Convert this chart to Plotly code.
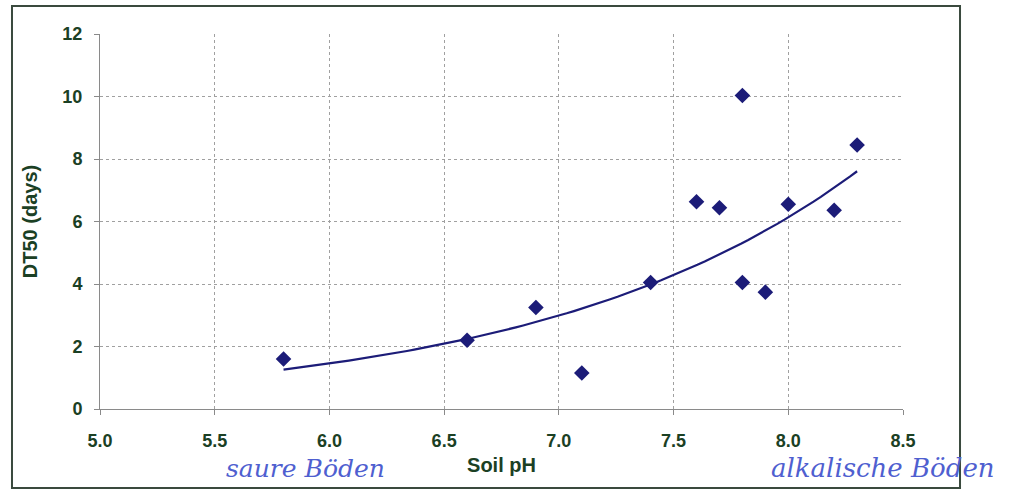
import numpy as np
import plotly.graph_objects as go

# Data
soil_ph = [5.8, 6.6, 6.9, 7.1, 7.4, 7.6, 7.7, 7.8, 7.8, 7.9, 8.0, 8.2, 8.3]
dt50_days = [1.6, 2.2, 3.25, 1.15, 4.05, 6.63, 6.44, 10.03, 4.05, 3.74, 6.55, 6.36, 8.45]

x_ticks = [5.0, 5.5, 6.0, 6.5, 7.0, 7.5, 8.0, 8.5]
x_tick_labels = ["5.0", "5.5", "6.0", "6.5", "7.0", "7.5", "8.0", "8.5"]
y_ticks = [0, 2, 4, 6, 8, 10, 12]

x_title = "Soil pH"
y_title = "DT50 (days)"
note_left = "saure Böden"
note_right = "alkalische Böden"

# Exponential trendline (least squares on ln(y)), as in the spreadsheet chart
xa = np.array(soil_ph)
ya = np.array(dt50_days)
b, ln_a = np.polyfit(xa, np.log(ya), 1)
trend_x = np.linspace(xa.min(), xa.max(), 80)
trend_y = np.exp(ln_a + b * trend_x)

navy = "#1c1c78"
text_col = "#1b4024"
grid_col = "#a0a0a0"

fig = go.Figure()
fig.add_trace(go.Scatter(x=trend_x, y=trend_y, mode="lines",
                         line=dict(color=navy, width=2.2), hoverinfo="skip",
                         showlegend=False))
fig.add_trace(go.Scatter(x=soil_ph, y=dt50_days, mode="markers",
                         marker=dict(symbol="diamond", size=12, color=navy),
                         showlegend=False))

font_family = "Liberation Sans, Arial, sans-serif"

fig.update_layout(
    width=1012, height=490,
    margin=dict(l=100, r=109, t=34, b=81),
    paper_bgcolor="white", plot_bgcolor="white",
    font=dict(family=font_family, color=text_col),
    xaxis=dict(range=[5.0, 8.5], tickvals=x_ticks, ticktext=x_tick_labels,
               showgrid=True, gridcolor=grid_col, griddash="dot", gridwidth=1,
               showline=True, linecolor="#8a8a8a", linewidth=1,
               ticks="outside", ticklen=5, tickcolor="#8a8a8a",
               ticklabelstandoff=10,
               tickfont=dict(size=18, family=font_family, color=text_col, weight="bold"),
               title=dict(text="<b>" + x_title + "</b>", font=dict(size=20), standoff=8),
               zeroline=False, fixedrange=True),
    yaxis=dict(range=[0, 12], tickvals=y_ticks,
               showgrid=True, gridcolor=grid_col, griddash="dot", gridwidth=1,
               showline=True, linecolor="#8a8a8a", linewidth=1,
               ticks="outside", ticklen=5, tickcolor="#8a8a8a",
               ticklabelstandoff=8,
               tickfont=dict(size=18, family=font_family, color=text_col, weight="bold"),
               title=dict(text="<b>" + y_title + "</b>", font=dict(size=20), standoff=19),
               zeroline=False, fixedrange=True),
    shapes=[dict(type="rect", xref="paper", yref="paper",
                 x0=-0.1096, x1=1.071, y0=-0.2107, y1=1.0747,
                 line=dict(color="#3a4a3e", width=2), layer="below")],
    annotations=[
        dict(text=note_left, xref="paper", yref="paper", x=0.155, y=-0.16,
             xanchor="left", yanchor="middle", showarrow=False,
             font=dict(family="DejaVu Serif", size=25, color="#4f5fd0", style="italic")),
        dict(text=note_right, xref="paper", yref="paper", x=0.833, y=-0.157,
             xanchor="left", yanchor="middle", showarrow=False,
             font=dict(family="DejaVu Serif", size=26, color="#4f5fd0", style="italic")),
    ],
)

fig.write_html("out.html", config={"displayModeBar": False},
               post_script="document.body.style.margin='0';document.body.style.overflow='hidden';")
